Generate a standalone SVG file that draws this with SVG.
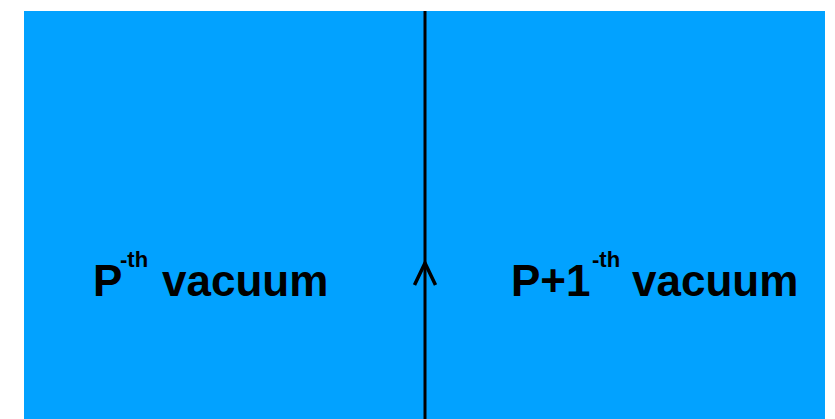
<svg xmlns="http://www.w3.org/2000/svg" width="835" height="419" viewBox="0 0 835 419">
<style>
.lbl{font-family:"Liberation Sans",Arial,sans-serif;font-weight:bold;fill:#000}
.big{font-size:44px}
.sup{font-size:22px}
.conn{stroke:#000;stroke-width:3;fill:none}
</style>
<rect x="24" y="11" width="801" height="408" fill="#02A2FF"/>
<g id="left-vacuum">
<text class="lbl big" x="93" y="296">P</text>
<text class="lbl sup" x="120" y="267">-th</text>
<text class="lbl big" x="162" y="296">vacuum</text>
</g>
<g id="right-vacuum">
<text class="lbl big" x="511" y="296">P+1</text>
<text class="lbl sup" x="592" y="267">-th</text>
<text class="lbl big" x="632" y="296">vacuum</text>
</g>
<g id="connectors">
<line class="conn" x1="425" y1="11" x2="425" y2="419"/>
<polyline class="conn" style="stroke-width:3.5" points="414.5,285 425,263 435.5,285"/>
</g>
</svg>
